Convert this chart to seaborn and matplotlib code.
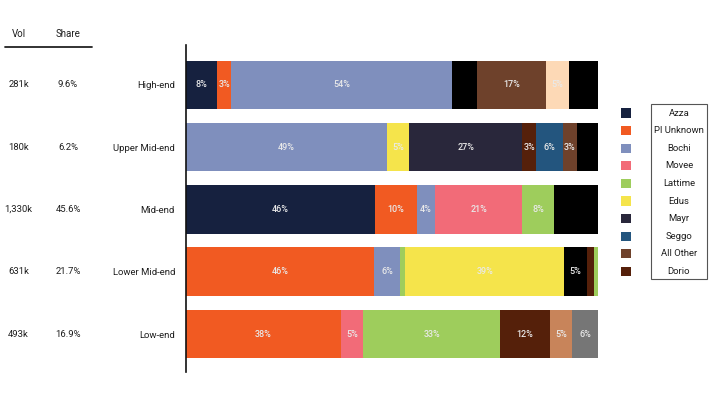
import pandas as pd
import matplotlib
matplotlib.use("Agg")
import matplotlib.pyplot as plt
import matplotlib.transforms as mtransforms
from matplotlib.patches import Rectangle
import seaborn as sns

# --------------------------------------------------------------------
# DATA
# --------------------------------------------------------------------

tiers = ["High-end", "Upper Mid-end", "Mid-end", "Lower Mid-end", "Low-end"]
tier_vol = ["281k", "180k", "1,330k", "631k", "493k"]
tier_share = ["9.6%", "6.2%", "45.6%", "21.7%", "16.9%"]

# brand order and share inside each tier (left to right)
high_brands = ["Azza", "Pl Unknown", "Bochi", "Brand K", "All Other", "Brand P", "Brand Z"]
high_pct = [7.6, 3.4, 53.6, 6.0, 16.8, 5.4, 7.2]

upper_brands = ["Bochi", "Edus", "Mayr", "Dorio", "Seggo", "All Other", "Brand Z"]
upper_pct = [48.8, 5.4, 27.4, 3.4, 6.4, 3.4, 5.2]

mid_brands = ["Azza", "Pl Unknown", "Bochi", "Movee", "Lattime", "Brand K"]
mid_pct = [45.8, 10.2, 4.4, 21.2, 7.7, 10.7]

lower_brands = ["Pl Unknown", "Bochi", "Lattime", "Edus", "Brand B", "Dorio", "Brand G"]
lower_pct = [45.6, 6.3, 1.3, 38.6, 5.4, 1.8, 1.0]

low_brands = ["Pl Unknown", "Movee", "Lattime", "Dorio", "Brand T", "Brand R"]
low_pct = [37.6, 5.4, 33.2, 12.1, 5.4, 6.3]

legend_brands = ["Azza", "Pl Unknown", "Bochi", "Movee", "Lattime",
                 "Edus", "Mayr", "Seggo", "All Other", "Dorio"]

BRAND_COLORS = {
    "Azza": "#16213f",
    "Pl Unknown": "#f15a22",
    "Bochi": "#7f8fbd",
    "Movee": "#f26b78",
    "Lattime": "#9ecd5c",
    "Edus": "#f5e44b",
    "Mayr": "#29273b",
    "Seggo": "#23557e",
    "All Other": "#6e412b",
    "Dorio": "#55200a",
    "Brand K": "#000000",
    "Brand Z": "#000000",
    "Brand B": "#000000",
    "Brand P": "#fdd9b6",
    "Brand G": "#9ecd5c",
    "Brand T": "#c8845a",
    "Brand R": "#767676",
}
# brands whose labels are drawn in black (so they vanish on black)
DARK_TEXT = {"Brand K", "Brand Z"}

FONT = "Roboto"
TEXT_COLOR = "#1e1e1e"
LABEL_COLOR = "#e9e9e9"
FS = 6.8


def build_segments():
    rows = []
    groups = [high_brands, upper_brands, mid_brands, lower_brands, low_brands]
    shares = [high_pct, upper_pct, mid_pct, lower_pct, low_pct]
    for tier, brands, pcts in zip(tiers, groups, shares):
        end = 0.0
        for j, (b, p) in enumerate(zip(brands, pcts)):
            end += p
            rows.append({"tier": tier, "layer": j, "brand": b, "pct": p,
                         "end": end, "key": f"{tier}|{j}"})
    return pd.DataFrame(rows)


# --------------------------------------------------------------------
# PLOT
# --------------------------------------------------------------------

def main():
    sns.set_style("white")
    plt.rcParams["font.family"] = [FONT, "DejaVu Sans"]

    seg = build_segments()
    palette = {k: BRAND_COLORS[b] for k, b in zip(seg["key"], seg["brand"])}

    fig = plt.figure(figsize=(7.13, 4.01), dpi=100)
    ax = fig.add_axes([186 / 713, 29 / 401, 412.3 / 713, 327 / 401])

    # cumulative bars drawn longest first, so each segment shows its own part
    for j in sorted(seg["layer"].unique(), reverse=True):
        layer = seg[seg["layer"] == j]
        sns.barplot(data=layer, x="end", y="tier", hue="key", order=tiers,
                    palette=palette, dodge=False, legend=False, width=0.78,
                    saturation=1, linewidth=0, ax=ax)

    for _, r in seg.iterrows():
        if r["pct"] < 3:
            continue
        color = "#000000" if r["brand"] in DARK_TEXT else LABEL_COLOR
        ax.text(r["end"] - r["pct"] / 2, tiers.index(r["tier"]),
                f"{r['pct']:.0f}%", ha="center", va="center",
                fontsize=FS - 0.3, color=color, fontweight="medium")

    ax.set_xlim(0, 100)
    ax.set_ylim(4.61, -0.64)
    ax.set_xlabel("")
    ax.set_ylabel("")
    ax.set_xticks([])
    ax.tick_params(axis="y", length=0, pad=8, labelsize=FS, labelcolor=TEXT_COLOR)
    for side in ["top", "right", "bottom"]:
        ax.spines[side].set_visible(False)
    ax.spines["left"].set_color("#111111")
    ax.spines["left"].set_linewidth(1.2)

    # left table: volume and share
    trans = mtransforms.blended_transform_factory(fig.transFigure, ax.transData)
    for i, (v, s) in enumerate(zip(tier_vol, tier_share)):
        ax.text(18.5 / 713, i, v, transform=trans, ha="center", va="center",
                fontsize=FS, color=TEXT_COLOR)
        ax.text(68 / 713, i, s, transform=trans, ha="center", va="center",
                fontsize=FS, color=TEXT_COLOR)
    fig.text(18.5 / 713, 1 - 34 / 401, "Vol", ha="center", va="center",
             fontsize=FS + 0.2, color=TEXT_COLOR)
    fig.text(68 / 713, 1 - 34 / 401, "Share", ha="center", va="center",
             fontsize=FS + 0.2, color=TEXT_COLOR)
    fig.add_artist(plt.Line2D([5 / 713, 92 / 713], [1 - 46.5 / 401] * 2,
                              transform=fig.transFigure, color="#222222", lw=1.3))

    # legend
    lax = fig.add_axes([600 / 713, 116 / 401, 113 / 713, 190 / 401])
    lax.set_xlim(600, 713)
    lax.set_ylim(285, 95)
    lax.axis("off")
    ys = [113 + i * 17.6 for i in range(len(legend_brands))]
    lax.scatter([626] * len(ys), ys, marker="s", s=42,
                c=[BRAND_COLORS[b] for b in legend_brands], linewidths=0)
    for b, y in zip(legend_brands, ys):
        lax.text(679, y, b, ha="center", va="center", fontsize=FS, color=TEXT_COLOR)
    lax.add_patch(Rectangle((651, 103.5), 56, 175, fill=False,
                            edgecolor="#555555", lw=0.8))

    fig.savefig("out.png", dpi=100)
    plt.close(fig)


if __name__ == "__main__":
    main()
